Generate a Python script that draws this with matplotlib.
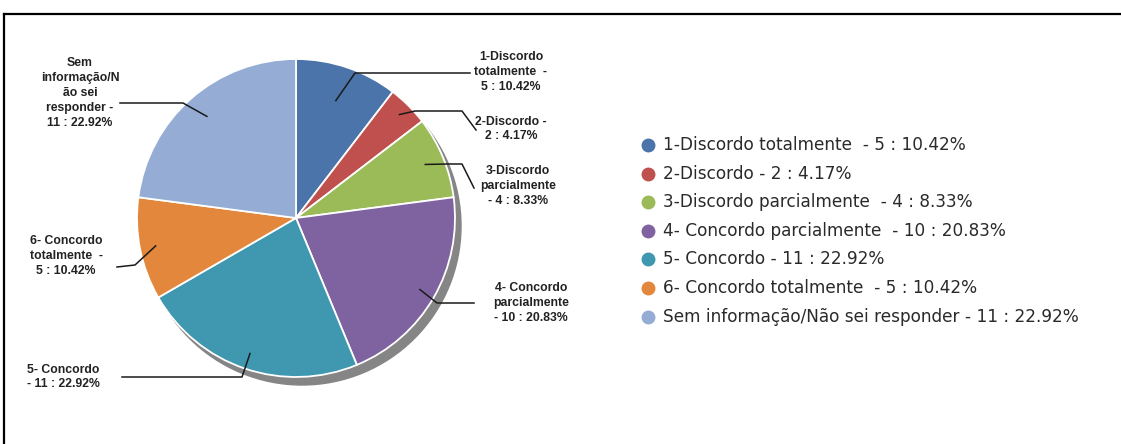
import numpy as np
import matplotlib
matplotlib.use('Agg')
from matplotlib import pyplot as plt
import matplotlib.patches as mpatches

# data
names = ['1-Discordo totalmente ', '2-Discordo', '3-Discordo parcialmente ',
         '4- Concordo parcialmente ', '5- Concordo', '6- Concordo totalmente ',
         'Sem informação/Não sei responder']
counts = [5, 2, 4, 10, 11, 5, 11]
percents = [10.42, 4.17, 8.33, 20.83, 22.92, 10.42, 22.92]
colors = ['#4a74aa', '#c0504d', '#9bbb59', '#7f63a1', '#3f98b0', '#e2873c', '#95acd4']

# wrapped labels next to the pie
pie_labels = ['1-Discordo\ntotalmente  -\n5 : 10.42%',
              '2-Discordo -\n2 : 4.17%',
              '3-Discordo\nparcialmente\n- 4 : 8.33%',
              '4- Concordo\nparcialmente\n- 10 : 20.83%',
              '5- Concordo\n- 11 : 22.92%',
              '6- Concordo\ntotalmente  -\n5 : 10.42%',
              'Sem\ninformação/N\não sei\nresponder -\n11 : 22.92%']

W, H = 1121, 444
fig = plt.figure(figsize=(W / 100, H / 100), dpi=100)
ax = fig.add_axes([0, 0, 1, 1])

cx, cy, r = 296, 218, 159

# shadow
ax.add_patch(mpatches.Circle((cx + 6, cy + 8), r, color='#858585', zorder=0))
wedges, _ = ax.pie(counts, colors=colors, startangle=-90, counterclock=True,
                   center=(cx, cy), radius=r,
                   wedgeprops=dict(edgecolor='white', linewidth=1.3))
for w in wedges:
    w.set_zorder(1)

ax.set_xlim(0, W)
ax.set_ylim(H, 0)
ax.set_aspect('equal')
ax.axis('off')

# label positions and leader line elbows (pixels)
text_pos = [(511, 72), (511, 129), (518, 186), (531, 303), (63, 377), (66, 256), (80, 93)]
elbows = [[(355, 73), (470, 73)],
          [(415, 111), (462, 111), (476, 130)],
          [(447, 164), (462, 164), (474, 188)],
          [(437, 303), (474, 303)],
          [(242, 377), (122, 377)],
          [(135, 265), (117, 267)],
          [(183, 103), (120, 103)]]
depth = [0.78, 0.92, 0.88, 0.9, 0.9, 0.9, 0.85]

for i, w in enumerate(wedges):
    mid = np.deg2rad((w.theta1 + w.theta2) / 2)
    sx = cx + depth[i] * r * np.cos(mid)
    sy = cy + depth[i] * r * np.sin(mid)
    xs = [sx] + [p[0] for p in elbows[i]]
    ys = [sy] + [p[1] for p in elbows[i]]
    ax.plot(xs, ys, color='#1a1a1a', lw=1.1, zorder=3)
    ax.text(text_pos[i][0], text_pos[i][1], pie_labels[i], ha='center', va='center',
            fontsize=8.8, fontweight='bold', family='Liberation Sans',
            color='#222222', linespacing=1.32, zorder=4)

# legend
for i, name in enumerate(names):
    y = 145 + i * 28.6
    ax.plot(648, y, 'o', ms=9, color=colors[i], zorder=3)
    ax.text(663, y, f'{name} - {counts[i]} : {percents[i]:.2f}%', va='center', ha='left',
            fontsize=12.2, family='DejaVu Sans', color='#2a2a2a')

# frame
ax.plot([4, W + 5], [14, 14], color='black', lw=1.6, clip_on=False)
ax.plot([4, 4], [14, H + 5], color='black', lw=1.6, clip_on=False)

fig.savefig('out.png', dpi=100)
